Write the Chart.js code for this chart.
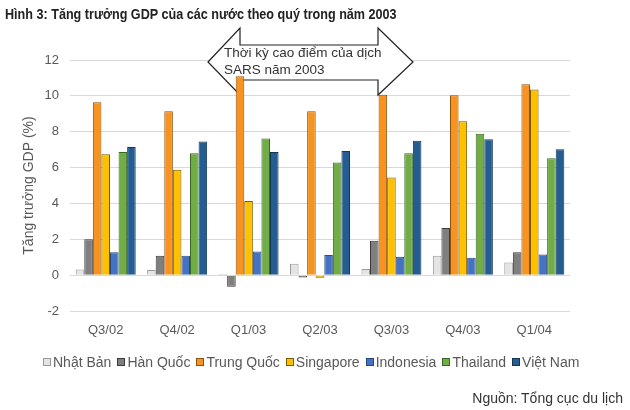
<!DOCTYPE html>
<html>
<head>
<meta charset="utf-8">
<script src="https://cdn.jsdelivr.net/npm/chart.js@4"></script>
<style>
  body { margin: 0; background: #fff; font-family: 'Liberation Sans', Arial, sans-serif; }
  #wrap { position: relative; width: 630px; height: 410px; }
  #title { position: absolute; left: 5px; top: 6px; font-size: 14px; font-weight: bold; color: #222; white-space: nowrap; transform: scaleX(0.9); transform-origin: left center; }
  #legend { position: absolute; left: 43px; top: 354px; font-size: 14px; color: #595959; display: flex; white-space: nowrap; line-height: 16px; }
  #legend span.item { display: flex; align-items: center; margin-right: 6px; }
  #legend span.box { display: inline-block; width: 6px; height: 6px; border: 1px solid #555; margin-right: 2px; }
  #source { position: absolute; right: 7px; top: 390px; font-size: 14px; color: #333; line-height: 16px; }
</style>
</head>
<body>
<div id="wrap">
  <canvas id="gdpChart" width="630" height="410"></canvas>
  <div id="title">Hình 3: Tăng trưởng GDP của các nước theo quý trong năm 2003</div>
  <div id="legend"></div>
  <div id="source">Nguồn: Tổng cục du lịch</div>
</div>
<script>
// quarters on the x axis
const categories = ['Q3/02', 'Q4/02', 'Q1/03', 'Q2/03', 'Q3/03', 'Q4/03', 'Q1/04'];

// GDP growth (%) per country
const nhatBan   = [0.32, 0.28, 0.06, 0.63, 0.34, 1.08, 0.71];
const hanQuoc   = [2.0, 1.08, -0.65, -0.13, 1.92, 2.63, 1.27];
const trungQuoc = [9.65, 9.14, 11.1, 9.14, 10.06, 10.04, 10.65];
const singapore = [6.74, 5.88, 4.13, -0.15, 5.44, 8.58, 10.35];
const indonesia = [1.27, 1.08, 1.32, 1.12, 1.02, 0.97, 1.15];
const thailand  = [6.87, 6.8, 7.62, 6.28, 6.8, 7.88, 6.52];
const vietNam   = [7.15, 7.45, 6.87, 6.93, 7.49, 7.58, 7.02];

const seriesNames = ['Nhật Bản', 'Hàn Quốc', 'Trung Quốc', 'Singapore', 'Indonesia', 'Thailand', 'Việt Nam'];
const seriesData = [nhatBan, hanQuoc, trungQuoc, singapore, indonesia, thailand, vietNam];
const fills   = ['#e4e4e4', '#7f7f7f', '#f7931e', '#ffc000', '#4472c4', '#70ad47', '#245d92'];
const borders = ['#9a9a9a', '#3a3a3a', '#8a5310', '#7a5c00', '#2c4a80', '#3b6623', '#143656'];

// y axis ticks
const yMin = -2, yMax = 12, yStep = 2;

Chart.defaults.font.family = "'Liberation Sans', Arial, sans-serif";

// the SARS arrow sits behind the bars
const sarsArrow = {
    id: 'sarsArrow',
    beforeDatasetsDraw(chart) {
        const c = chart.ctx;
        c.save();
        c.beginPath();
        c.moveTo(208, 62);
        c.lineTo(240, 28);
        c.lineTo(240, 45);
        c.lineTo(378, 45);
        c.lineTo(378, 28);
        c.lineTo(413, 62);
        c.lineTo(378, 95);
        c.lineTo(378, 80);
        c.lineTo(240, 80);
        c.lineTo(240, 95);
        c.closePath();
        c.fillStyle = '#fff';
        c.fill();
        c.strokeStyle = '#222';
        c.lineWidth = 1.2;
        c.stroke();
        c.fillStyle = '#333';
        c.font = "13.5px 'Liberation Sans', Arial, sans-serif";
        c.textBaseline = 'middle';
        c.fillText('Thời kỳ cao điểm của dịch', 224, 53);
        c.fillText('SARS năm 2003', 224, 70);
        c.restore();
    }
};

const ctx = document.getElementById('gdpChart').getContext('2d');
const gdpChart = new Chart(ctx, {
    type: 'bar',
    data: {
        labels: categories,
        datasets: seriesNames.map((name, i) => ({
            label: name,
            data: seriesData[i],
            backgroundColor: fills[i],
            borderColor: borders[i],
            borderWidth: 1,
            categoryPercentage: 0.84,
            barPercentage: 1.0
        }))
    },
    options: {
        responsive: false,
        animation: false,
        layout: { padding: { top: 60, right: 60, bottom: 69, left: 0 } },
        plugins: {
            legend: { display: false },
            tooltip: { enabled: false }
        },
        scales: {
            x: {
                grid: { display: false },
                border: { display: false },
                ticks: { color: '#595959', font: { size: 13 }, padding: 4 },
                afterFit(scale) { scale.height = 30; }
            },
            y: {
                min: yMin,
                max: yMax,
                ticks: { stepSize: yStep, color: '#595959', font: { size: 13 }, padding: 11 },
                grid: { color: '#d9d9d9', drawTicks: false },
                border: { display: false },
                title: {
                    display: true,
                    text: 'Tăng trưởng GDP (%)',
                    color: '#595959',
                    font: { size: 14 },
                    padding: { top: 21, bottom: 0 }
                },
                afterFit(scale) { scale.width = 70; }
            }
        }
    },
    plugins: [sarsArrow]
});

// legend as html, built from the same names and colours
const legendEl = document.getElementById('legend');
seriesNames.forEach((name, i) => {
    const item = document.createElement('span');
    item.className = 'item';
    const box = document.createElement('span');
    box.className = 'box';
    box.style.background = fills[i];
    box.style.borderColor = borders[i];
    item.appendChild(box);
    item.appendChild(document.createTextNode(name));
    legendEl.appendChild(item);
});
</script>
</body>
</html>
